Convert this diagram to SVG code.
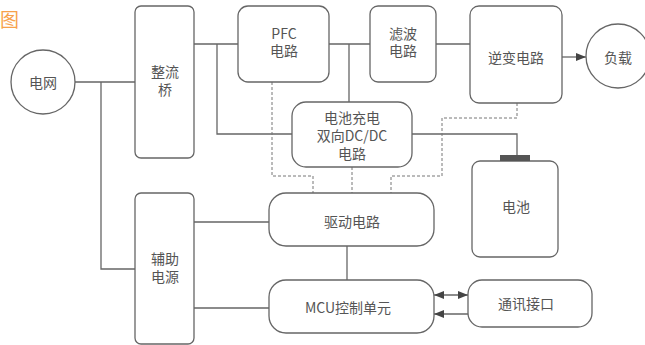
<svg xmlns="http://www.w3.org/2000/svg" width="645" height="345" viewBox="0 0 645 345">
<style>
.n{fill:#fff;stroke:#666;stroke-width:1.3}
.t{font-family:"Noto Sans CJK SC","Noto Sans",sans-serif;font-size:14px;fill:#555;text-anchor:middle;dominant-baseline:central}
.c{fill:none;stroke:#666;stroke-width:1.3}
.d{fill:none;stroke:#777;stroke-width:1;stroke-dasharray:3 2}
</style>
<defs>
<marker id="ah" viewBox="0 0 10 10" refX="10" refY="5" markerWidth="10" markerHeight="10" markerUnits="userSpaceOnUse" orient="auto-start-reverse">
<path d="M0,1 L10,5 L0,9 Z" fill="#444"/>
</marker>
</defs>
<rect width="645" height="345" fill="#fff"/>
<text x="0" y="18" style="font-family:'Noto Sans CJK SC',sans-serif;font-size:19px;fill:#f7a24c;dominant-baseline:central">图</text>
<g id="connectors">
<path class="c" d="M75,82 H135 M101,82 V269 H135"/>
<path class="c" d="M194,44 H238 M217,44 V134 H292"/>
<path class="c" d="M329,44 H370 M349,44 V102"/>
<path class="c" d="M436,44 H470"/>
<path class="c" d="M412,134 H517 V155"/>
<path class="c" d="M562,57 H586" marker-end="url(#ah)"/>
<path class="c" d="M194,222 H269 M194,308 H269"/>
<path class="c" d="M347,246 V280"/>
<path class="c" d="M434,295 H468" marker-start="url(#ah)" marker-end="url(#ah)"/>
<path class="c" d="M468,314 H434" marker-end="url(#ah)"/>
<path class="d" d="M272,82 V176 H313 V193"/>
<path class="d" d="M352,167 V193"/>
<path class="d" d="M517,103 V118 H442 V176 H391 V193"/>
</g>
<g id="grid"><circle class="n" cx="43" cy="82" r="32"/><text class="t" x="43" y="82">电网</text></g>
<g id="rectifier"><rect class="n" x="135" y="6" width="59" height="152" rx="6"/><text class="t" x="165" y="71">整流<tspan x="165" dy="18">桥</tspan></text></g>
<g id="pfc"><rect class="n" x="238" y="6" width="91" height="76" rx="10"/><text class="t" x="284" y="33">PFC<tspan x="284" dy="17">电路</tspan></text></g>
<g id="filter"><rect class="n" x="370" y="6" width="66" height="76" rx="8"/><text class="t" x="403" y="33">滤波<tspan x="403" dy="17">电路</tspan></text></g>
<g id="inverter"><rect class="n" x="470" y="6" width="92" height="97" rx="9"/><text class="t" x="516" y="57">逆变电路</text></g>
<g id="load"><circle class="n" cx="618" cy="56" r="32"/><text class="t" x="618" y="57">负载</text></g>
<g id="dcdc"><rect class="n" x="292" y="102" width="120" height="65" rx="14"/><text class="t" x="352" y="117">电池充电<tspan x="352" dy="18">双向DC/DC</tspan><tspan x="352" dy="18">电路</tspan></text></g>
<g id="battery"><rect class="n" x="472" y="161" width="86" height="96" rx="8"/><rect x="500" y="155" width="30" height="6" fill="#555"/><text class="t" x="516" y="206">电池</text></g>
<g id="driver"><rect class="n" x="269" y="193" width="165" height="53" rx="17"/><text class="t" x="352" y="221">驱动电路</text></g>
<g id="aux"><rect class="n" x="135" y="193" width="59" height="151" rx="6"/><text class="t" x="165" y="258">辅助<tspan x="165" dy="18">电源</tspan></text></g>
<g id="mcu"><rect class="n" x="269" y="280" width="165" height="53" rx="17"/><text class="t" x="348" y="307">MCU控制单元</text></g>
<g id="comm"><rect class="n" x="468" y="280" width="124" height="47" rx="14"/><text class="t" x="526" y="303">通讯接口</text></g>
</svg>
